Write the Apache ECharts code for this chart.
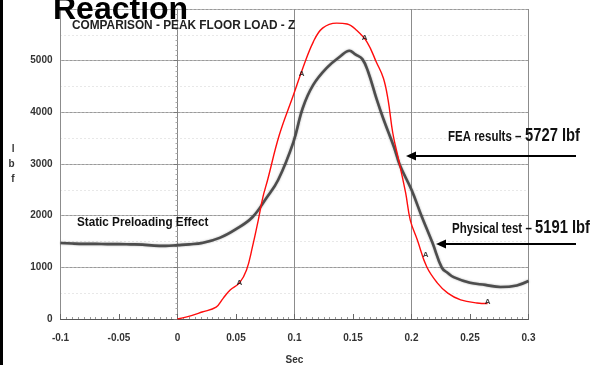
<!DOCTYPE html>
<html>
<head>
<meta charset="utf-8">
<script src="https://cdn.jsdelivr.net/npm/echarts@6/dist/echarts.min.js"></script>
<style>
  html, body { margin: 0; padding: 0; background: #fff; }
  #chart { width: 595px; height: 365px; }
</style>
</head>
<body>
<div id="chart"></div>
<script>
// Physical test load trace (time in sec, load in lbf)
var testTime = [-0.1, -0.09, -0.08, -0.07, -0.06, -0.05, -0.04, -0.03, -0.02, -0.01, 0, 0.01, 0.021, 0.036, 0.05, 0.064, 0.076, 0.086, 0.099, 0.107, 0.116, 0.128, 0.139, 0.147, 0.152, 0.158, 0.163, 0.17, 0.176, 0.185, 0.19, 0.2, 0.209, 0.218, 0.226, 0.231, 0.236, 0.25, 0.263, 0.276, 0.29, 0.3];
var testLoad = [1470, 1460, 1455, 1455, 1450, 1450, 1445, 1440, 1420, 1415, 1430, 1445, 1470, 1570, 1740, 1970, 2340, 2690, 3420, 4080, 4530, 4870, 5080, 5191, 5120, 5030, 4780, 4270, 3870, 3330, 2980, 2500, 1970, 1470, 990, 890, 810, 700, 660, 620, 650, 735];

// FEA load trace
var feaTime = [0, 0.008, 0.021, 0.033, 0.039, 0.045, 0.053, 0.059, 0.064, 0.069, 0.073, 0.077, 0.087, 0.099, 0.107, 0.116, 0.124, 0.136, 0.145, 0.153, 0.162, 0.17, 0.176, 0.18, 0.184, 0.189, 0.195, 0.199, 0.205, 0.213, 0.222, 0.231, 0.242, 0.256, 0.265];
var feaLoad = [0, 40, 135, 230, 400, 560, 700, 950, 1390, 1910, 2360, 2690, 3560, 4330, 4850, 5360, 5630, 5727, 5710, 5590, 5360, 4970, 4660, 4240, 3600, 3080, 2440, 1910, 1530, 1010, 700, 500, 370, 310, 300];

// "A" point markers along the FEA trace
var markTime = [0.053, 0.106, 0.160, 0.212, 0.265];
var markLoad = [700, 4750, 5450, 1250, 330];

// Axis ticks
var timeTicks = [-0.1, -0.05, 0, 0.05, 0.1, 0.15, 0.2, 0.25, 0.3];
var loadTicks = [0, 1000, 2000, 3000, 4000, 5000];

var sans = '"Liberation Sans", Arial, sans-serif';

function pairs(xs, ys) { return xs.map(function (x, i) { return [x, ys[i]]; }); }

var chart = echarts.init(document.getElementById('chart'), null, { renderer: 'canvas' });

var labelStyle = { fontFamily: sans, fontWeight: 'bold', fontSize: 10, color: '#333' };

// condensed-looking bold text block
function txt(str, x, y, size, sx, color) {
  return {
    type: 'text', x: x, y: y, scaleX: sx, z: 10,
    style: { text: str, fontFamily: sans, fontWeight: 'bold', fontSize: size, fill: color || '#111', verticalAlign: 'middle', align: 'left' }
  };
}

chart.setOption({
  animation: false,
  backgroundColor: '#fff',
  grid: { left: 60.5, right: 66.5, top: 9, bottom: 46, containLabel: false, outerBoundsMode: 'none' },
  xAxis: [{
    type: 'value',
    min: timeTicks[0], max: timeTicks[timeTicks.length - 1], interval: 0.05,
    name: 'Sec', nameLocation: 'middle', nameGap: 36,
    nameTextStyle: { fontFamily: sans, fontWeight: 'bold', fontSize: 10, color: '#333' },
    axisLine: { show: true, lineStyle: { color: '#555', width: 1 } },
    axisTick: { show: true, inside: true, length: 5, lineStyle: { color: '#666' } },
    minorTick: { show: true, splitNumber: 10, length: 2, lineStyle: { color: '#999' } },
    axisLabel: Object.assign({ margin: 14, formatter: function (v) { return String(parseFloat(v.toFixed(2))); } }, labelStyle),
    splitLine: { show: false }
  }, {
    // vertical grid every 0.1 s
    type: 'value', position: 'bottom',
    min: timeTicks[0], max: timeTicks[timeTicks.length - 1], interval: 0.1,
    axisLine: { show: false }, axisTick: { show: false }, axisLabel: { show: false },
    splitLine: { show: true, lineStyle: { color: '#8c8c8c', width: 1 } }
  }],
  yAxis: [{
    type: 'value',
    min: 0, max: 6000, interval: 1000,
    name: 'l\nb\nf', nameLocation: 'middle', nameGap: 46, nameRotate: 0,
    nameTextStyle: { fontFamily: sans, fontWeight: 'bold', fontSize: 10, color: '#333', lineHeight: 15 },
    axisLine: { show: true, lineStyle: { color: '#888', width: 1 } },
    axisTick: { show: true, length: 4, lineStyle: { color: '#777' } },
    minorTick: { show: true, splitNumber: 10, length: 2, lineStyle: { color: '#aaa' } },
    axisLabel: Object.assign({ margin: 8, formatter: function (v) { return loadTicks.indexOf(v) >= 0 ? String(v) : ''; } }, labelStyle),
    splitLine: { show: true, lineStyle: { color: '#9a9a9a', width: 1 } }
  }, {
    // faint dotted half-step lines
    type: 'value', position: 'left',
    min: 0, max: 6000, interval: 500,
    axisLine: { show: false }, axisTick: { show: false }, axisLabel: { show: false },
    splitLine: { show: true, lineStyle: { color: '#d0d0d0', width: 1, type: [1, 3] } }
  }],
  series: [{
    name: 'Physical test',
    type: 'line',
    data: pairs(testTime, testLoad),
    smooth: 0.4,
    showSymbol: false, symbol: 'none',
    lineStyle: { color: '#4d4d4d', width: 2.6, shadowColor: 'rgba(80,80,80,0.5)', shadowBlur: 2 },
    z: 3
  }, {
    name: 'FEA results',
    type: 'line',
    data: pairs(feaTime, feaLoad),
    smooth: 0.4,
    showSymbol: false, symbol: 'none',
    lineStyle: { color: '#ff0d0d', width: 1.4 },
    z: 4
  }, {
    name: 'A',
    type: 'scatter',
    data: pairs(markTime, markLoad),
    symbolSize: 0,
    label: { show: true, position: 'inside', formatter: 'A', fontFamily: sans, fontSize: 8, fontWeight: 'bold', color: '#111' },
    z: 5
  }],
  graphic: [
    { type: 'rect', left: 0, top: 0, shape: { x: 0, y: 0, width: 3, height: 365 }, style: { fill: '#000' } },
    txt('Reaction', 53, 10, 32, 1, '#000'),
    txt('COMPARISON - PEAK FLOOR LOAD - Z', 72, 25.5, 13, 0.91, '#222'),
    txt('Static Preloading Effect', 77, 222, 13, 0.9),
    txt('FEA results \u2013', 448, 137, 14, 0.82),
    txt('5727 lbf', 525, 136, 18, 0.82),
    txt('Physical test \u2013', 452, 229, 14, 0.82),
    txt('5191 lbf', 535, 228, 18, 0.82),
    // arrows pointing at the traces
    { type: 'line', shape: { x1: 414, y1: 156, x2: 576, y2: 156 }, style: { stroke: '#000', lineWidth: 1.8 }, z: 10 },
    { type: 'polygon', shape: { points: [[406, 156], [416, 151.5], [416, 160.5]] }, style: { fill: '#000' }, z: 10 },
    { type: 'line', shape: { x1: 444, y1: 244, x2: 576, y2: 244 }, style: { stroke: '#000', lineWidth: 1.8 }, z: 10 },
    { type: 'polygon', shape: { points: [[436, 244], [446, 239.5], [446, 248.5]] }, style: { fill: '#000' }, z: 10 }
  ]
});
</script>
</body>
</html>
